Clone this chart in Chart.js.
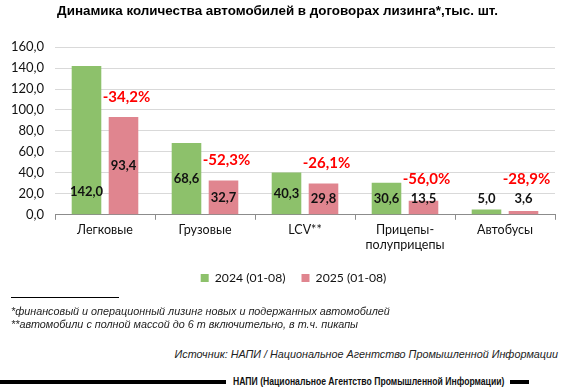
<!DOCTYPE html>
<html>
<head>
<meta charset="utf-8">
<script src="https://cdn.jsdelivr.net/npm/chart.js@4.4.1/dist/chart.umd.min.js"></script>
<style>
  html, body { margin: 0; padding: 0; background: #fff; }
  body { width: 580px; height: 391px; position: relative; overflow: hidden; font-family: "Liberation Sans", Arial, sans-serif; }
  #wrap { position: absolute; left: 0; top: 0; width: 580px; height: 298px; }
  .note { position: absolute; font-style: italic; font-size: 10.8px; color: #222; white-space: nowrap; }
  #sep { position: absolute; left: 11px; top: 297px; width: 108px; height: 1px; background: #000; }
  #src { position: absolute; right: 22px; top: 348px; font-style: italic; font-size: 10.8px; color: #222; white-space: nowrap; }
  .bar { position: absolute; height: 4px; background: #000; top: 380px; }
  #brand { position: absolute; left: 233px; top: 375px; font-weight: bold; font-size: 11.5px; color: #111; white-space: nowrap;
           transform: scaleX(0.75); transform-origin: 0 50%; }
</style>
</head>
<body>
<div id="wrap"><canvas id="chart"></canvas></div>
<div id="sep"></div>
<div class="note" style="left:11px; top:305px;">*финансовый и операционный лизинг новых и подержанных автомобилей</div>
<div class="note" style="left:11px; top:318px;">**автомобили с полной массой до 6 т включительно, в т.ч. пикапы</div>
<div id="src">Источник: НАПИ / Национальное Агентство Промышленной Информации</div>
<div class="bar" style="left:0; width:226px;"></div>
<div id="brand">НАПИ (Национальное Агентство Промышленной Информации)</div>
<div class="bar" style="left:510px; width:19px;"></div>
<script>
// categories and values (тыс. шт.)
const categories = ['Легковые', 'Грузовые', 'LCV**', ['Прицепы-', 'полуприцепы'], 'Автобусы'];
const values2024 = [142.0, 68.6, 40.3, 30.6, 5.0];
const values2025 = [93.4, 32.7, 29.8, 13.5, 3.6];
const changeLabels = ['-34,2%', '-52,3%', '-26,1%', '-56,0%', '-28,9%'];
const yTicks = [0, 20, 40, 60, 80, 100, 120, 140, 160];

const fmt = v => v.toFixed(1).replace('.', ',');

// value labels inside bars + red change labels above the 2025 bars
const barLabels = {
    id: 'barLabels',
    afterLayout(chart) {
        // legend sits a bit right of the chart centre in the original
        chart.legend.left += 16;
        chart.legend.right += 16;
    },
    afterDatasetsDraw(chart) {
        const ctx = chart.ctx;
        ctx.save();
        ctx.textAlign = 'center';
        ctx.textBaseline = 'middle';
        const anchors = [];
        chart.data.datasets.forEach((ds, di) => {
            const meta = chart.getDatasetMeta(di);
            meta.data.forEach((bar, i) => {
                const h = bar.base - bar.y;
                let y = (bar.y + bar.base) / 2;
                if (di === 0 && i === 0) y = bar.base - 22;
                if (h < 16) y = bar.base - 15;
                ctx.font = 'bold 13px Lato, "Open Sans", sans-serif';
                ctx.fillStyle = '#111';
                ctx.fillText(fmt(ds.data[i]), bar.x, y);
                if (di === 1) anchors[i] = { x: bar.x, y: h < 16 ? y : bar.y };
            });
        });
        ctx.font = 'bold 15px Lato, "Open Sans", sans-serif';
        ctx.fillStyle = '#FF0000';
        anchors.forEach((a, i) => {
            ctx.fillText(changeLabels[i], a.x + 3, a.y - 20);
        });
        ctx.restore();
    }
};

const ctx = document.getElementById('chart').getContext('2d');
const chart = new Chart(ctx, {
    type: 'bar',
    data: {
        labels: categories,
        datasets: [{
            label: '2024 (01-08)',
            data: values2024,
            backgroundColor: '#8DC16B'
        }, {
            label: '2025 (01-08)',
            data: values2025,
            backgroundColor: '#E0858F'
        }]
    },
    options: {
        responsive: true,
        maintainAspectRatio: false,
        animation: false,
        datasets: {
            bar: { categoryPercentage: 0.74, barPercentage: 0.8 }
        },
        layout: { padding: { left: 0, right: 25, top: 0, bottom: 4 } },
        plugins: {
            title: {
                display: true,
                text: 'Динамика количества автомобилей в договорах лизинга*,тыс. шт.',
                color: '#000',
                font: { family: 'Liberation Sans', size: 13.4, weight: 'bold' },
                padding: { top: 3, bottom: 28 }
            },
            legend: {
                position: 'bottom',
                labels: {
                    boxWidth: 8,
                    boxHeight: 8,
                    padding: 16,
                    color: '#111',
                    font: { family: 'Lato', size: 12.2 }
                }
            },
            tooltip: { enabled: false }
        },
        scales: {
            x: {
                grid: {
                    offset: true,
                    drawOnChartArea: false,
                    drawTicks: true,
                    tickLength: 5,
                    color: '#8c8c8c'
                },
                border: { color: '#8c8c8c' },
                ticks: {
                    color: '#111',
                    font: { family: 'Lato', size: 12.5 },
                    padding: 3,
                    maxRotation: 0
                }
            },
            y: {
                min: 0,
                max: 160,
                afterBuildTicks: scale => {
                    scale.ticks = yTicks.map(v => ({ value: v }));
                },
                afterFit: scale => { scale.width = 55; },
                grid: { color: '#d9d9d9', drawTicks: false },
                border: { display: false },
                ticks: {
                    color: '#111',
                    font: { family: 'Lato', size: 13 },
                    padding: 11,
                    callback: v => fmt(v)
                }
            }
        }
    },
    plugins: [barLabels]
});
</script>
</body>
</html>
